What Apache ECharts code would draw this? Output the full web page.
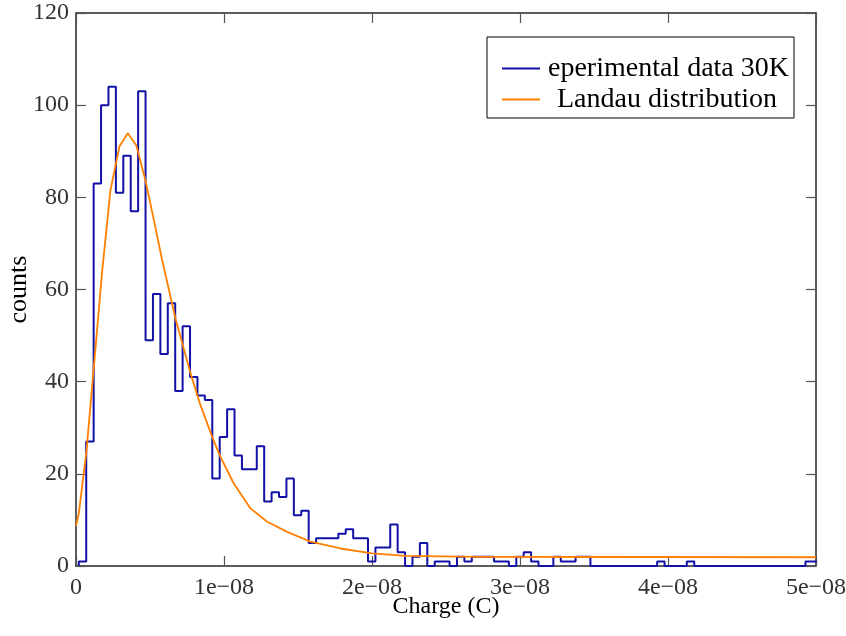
<!DOCTYPE html>
<html>
<head>
<meta charset="utf-8">
<script src="https://cdn.jsdelivr.net/npm/echarts@6/dist/echarts.min.js"></script>
<style>
  html, body { margin: 0; padding: 0; background: #fff; }
  #chart { width: 846px; height: 636px; }
</style>
</head>
<body>
<div id="chart"></div>
<script>
// Histogram of collected charge: 100 equal-width bins
const binStart = 0.19e-9;
const binWidth = 0.501e-9;
const counts = [
  1, 27, 83, 100, 104, 81, 89, 77, 103, 49,
  59, 46, 57, 38, 52, 41, 37, 36, 19, 28,
  34, 24, 21, 21, 26, 14, 16, 15, 19, 11,
  12, 5, 6, 6, 6, 7, 8, 6, 6, 1,
  4, 4, 9, 3, 0, 2, 5, 0, 1, 1,
  0, 2, 1, 2, 2, 2, 1, 1, 0, 2,
  3, 1, 0, 0, 2, 1, 1, 2, 2, 0,
  0, 0, 0, 0, 0, 0, 0, 0, 1, 0,
  0, 0, 1, 0, 0, 0, 0, 0, 0, 0,
  0, 0, 0, 0, 0, 0, 0, 0, 1, 1
];

// Fitted Landau curve, charge in nC and expected counts
const landauChargeNC = [0, 0.19, 0.71, 1.20, 1.77, 2.33, 2.94, 3.50, 4.07, 4.69,
  5.26, 5.82, 6.72, 7.74, 8.41, 9.24, 9.76, 10.66, 11.79, 12.92,
  14.27, 15.84, 17.87, 20.0, 22.26, 27.3, 38.8, 50.0];
const landauCounts = [8.7, 11.4, 25, 43, 64, 81.6, 91.1, 93.9, 91.3, 83.7,
  75.1, 66.4, 53.7, 41.8, 34.9, 27.7, 23.7, 17.9, 12.5, 9.6,
  7.4, 5.3, 3.8, 2.75, 2.2, 2.0, 1.95, 1.9];

const xTickLabels = ['0', '1e\u221208', '2e\u221208', '3e\u221208', '4e\u221208', '5e\u221208'];
const yTickLabels = ['0', '20', '40', '60', '80', '100', '120'];

const seriesNames = ['eperimental data 30K', 'Landau distribution'];
const colors = ['#1111a6', '#ff8000'];
const font = "'Liberation Serif', 'Times New Roman', serif";

// Stair outline: rise from zero at the first edge, one point per bin edge
const histPoints = [[binStart, 0]];
counts.forEach((c, k) => histPoints.push([binStart + k * binWidth, c]));
histPoints.push([binStart + counts.length * binWidth, counts[counts.length - 1]]);

const landauPoints = landauChargeNC.map((x, i) => [x * 1e-9, landauCounts[i]]);

const makeLine = () => ({ show: true, onZero: false, lineStyle: { color: '#262626', width: 1.5 } });
const makeTick = () => ({ show: true, inside: true, length: 10, lineStyle: { color: '#555', width: 1.2 } });

const legendText = { fontFamily: font, fontSize: 28, color: '#000', lineHeight: 31 };

const chart = echarts.init(document.getElementById('chart'), null, { renderer: 'canvas' });
chart.setOption({
  animation: false,
  backgroundColor: '#fff',
  grid: { left: 76, right: 30, top: 13, bottom: 70, containLabel: false, outerBoundsMode: 'none' },
  legend: {
    orient: 'vertical',
    left: 487,
    top: 37,
    data: seriesNames,
    icon: 'rect',
    itemWidth: 38,
    itemHeight: 2,
    itemGap: 0,
    padding: [16, 5, 3, 15],
    borderColor: '#000',
    borderWidth: 1,
    backgroundColor: '#fff',
    textStyle: Object.assign({}, legendText, {
      rich: {
        first: Object.assign({}, legendText, { padding: [0, 0, 0, 3] }),
        second: Object.assign({}, legendText, { padding: [0, 0, 0, 12] })
      }
    }),
    formatter: name => (name === seriesNames[1] ? '{second|' : '{first|') + name + '}'
  },
  xAxis: [{
    type: 'value', min: 0, max: 5e-8, interval: 1e-8,
    position: 'bottom',
    name: 'Charge (C)', nameLocation: 'middle', nameGap: 29, nameMoveOverlap: false,
    nameTextStyle: { fontFamily: font, fontSize: 24, color: '#000' },
    axisLine: makeLine(), axisTick: makeTick(), splitLine: { show: false },
    axisLabel: {
      fontFamily: font, fontSize: 24, color: '#333', margin: 10,
      formatter: v => xTickLabels[Math.round(v / 1e-8)]
    }
  }, {
    type: 'value', min: 0, max: 5e-8, interval: 1e-8,
    position: 'top', axisLine: makeLine(), axisTick: makeTick(),
    axisLabel: { show: false }, splitLine: { show: false }
  }],
  yAxis: [{
    type: 'value', min: 0, max: 120, interval: 20,
    position: 'left',
    name: 'counts', nameLocation: 'middle', nameGap: 44, nameMoveOverlap: false,
    nameTextStyle: { fontFamily: font, fontSize: 26, color: '#000' },
    axisLine: makeLine(), axisTick: makeTick(), splitLine: { show: false },
    axisLabel: {
      fontFamily: font, fontSize: 24, color: '#333', margin: 7,
      formatter: v => yTickLabels[Math.round(v / 20)]
    }
  }, {
    type: 'value', min: 0, max: 120, interval: 20,
    position: 'right', axisLine: makeLine(), axisTick: makeTick(),
    axisLabel: { show: false }, splitLine: { show: false }
  }],
  series: [{
    name: seriesNames[0],
    type: 'line',
    step: 'end',
    data: histPoints,
    showSymbol: false,
    clip: true,
    lineStyle: { color: colors[0], width: 2 },
    itemStyle: { color: colors[0] }
  }, {
    name: seriesNames[1],
    type: 'line',
    data: landauPoints,
    smooth: false,
    showSymbol: false,
    clip: true,
    lineStyle: { color: colors[1], width: 1.8 },
    itemStyle: { color: colors[1] }
  }]
});
</script>
</body>
</html>
